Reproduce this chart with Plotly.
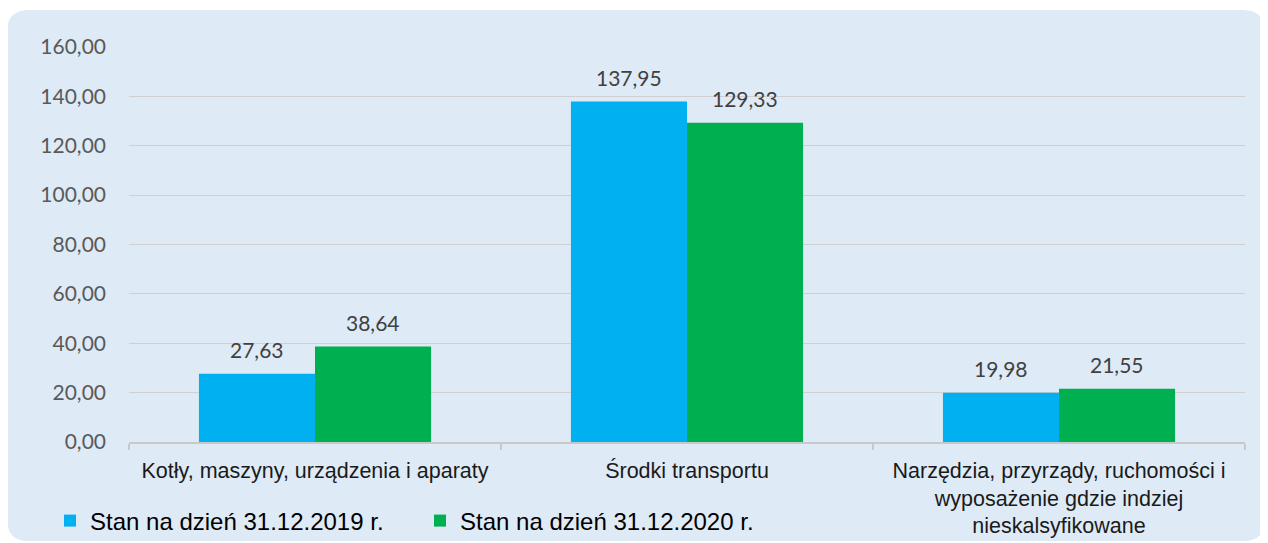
import plotly.graph_objects as go

categories = [
    "Kotły, maszyny, urządzenia i aparaty",
    "Środki transportu",
    "Narzędzia, przyrządy, ruchomości i<br>wyposażenie gdzie indziej<br>nieskalsyfikowane",
]
series_names = ["Stan na dzień 31.12.2019 r.", "Stan na dzień 31.12.2020 r."]
values_2019 = [27.63, 137.95, 19.98]
values_2020 = [38.64, 129.33, 21.55]
colors = ["#00B0F0", "#00B050"]
y_ticks = [0, 20, 40, 60, 80, 100, 120, 140, 160]

# page body has an 8px margin, so the figure is 8px smaller than the window
OFF = 8
W, H = 1268 - OFF, 543 - OFF
ML, MR, MT, MB = 121, 23, 39, 101
PW, PH = W - ML - MR, H - MT - MB


def px(x):
    # reference window pixel -> paper fraction
    return (x - OFF - ML) / PW


def py(y):
    return (H - MB - (y - OFF)) / PH


fig = go.Figure()
for name, vals, col in zip(series_names, [values_2019, values_2020], colors):
    fig.add_trace(go.Bar(x=categories, y=vals, name=name, marker=dict(color=col, line=dict(width=0))))

# data labels
for vals, shift in [(values_2019, -58), (values_2020, 58)]:
    for c, v in zip(categories, vals):
        fig.add_annotation(
            x=c, y=v, xref="x", yref="y", text=f"{v:.2f}".replace(".", ","),
            showarrow=False, xshift=shift, yshift=24, yanchor="middle",
            font=dict(family="Lato", size=21, color="#404040"),
        )

# rounded background panel
x0, x1, y0, y1, r = 7, 1265, 10, 541, 22
path = (
    f"M {px(x0 + r)},{py(y0)} L {px(x1 - r)},{py(y0)} Q {px(x1)},{py(y0)} {px(x1)},{py(y0 + r)} "
    f"L {px(x1)},{py(y1 - r)} Q {px(x1)},{py(y1)} {px(x1 - r)},{py(y1)} "
    f"L {px(x0 + r)},{py(y1)} Q {px(x0)},{py(y1)} {px(x0)},{py(y1 - r)} "
    f"L {px(x0)},{py(y0 + r)} Q {px(x0)},{py(y0)} {px(x0 + r)},{py(y0)} Z"
)
fig.add_shape(type="path", path=path, xref="paper", yref="paper", layer="below",
              fillcolor="#DEEAF6", line=dict(width=0))

fig.update_layout(
    width=W, height=H,
    margin=dict(l=ML, r=MR, t=MT, b=MB, pad=0, autoexpand=False),
    paper_bgcolor="white", plot_bgcolor="rgba(0,0,0,0)",
    separators=", ",
    barmode="group", bargap=0.376, bargroupgap=0,
    showlegend=True,
    legend=dict(
        orientation="h", x=px(50), xanchor="left", y=py(521), yanchor="middle",
        entrywidth=325, entrywidthmode="pixels",
        font=dict(family="Liberation Sans, Arial", size=24, color="#000000"),
        bgcolor="rgba(0,0,0,0)", borderwidth=0, itemwidth=30,
    ),
    xaxis=dict(
        showline=True, linecolor="#C8C8C8", linewidth=1.5,
        ticks="outside", tickson="boundaries", ticklen=6, tickcolor="#C8C8C8", tickwidth=1.5,
        tickfont=dict(family="Liberation Sans, Arial", size=21.5, color="#1A1A1A"),
        ticklabelstandoff=8, automargin=False,
        showgrid=False,
    ),
    yaxis=dict(
        range=[0, 160], tickvals=y_ticks, tickformat=".2f",
        showgrid=True, gridcolor="#D0D0D0", gridwidth=1.2,
        zeroline=False, showline=False, automargin=False,
        tickfont=dict(family="Lato", size=21, color="#595959"),
        ticklabelstandoff=22,
    ),
)

fig.write_html("out.html")
